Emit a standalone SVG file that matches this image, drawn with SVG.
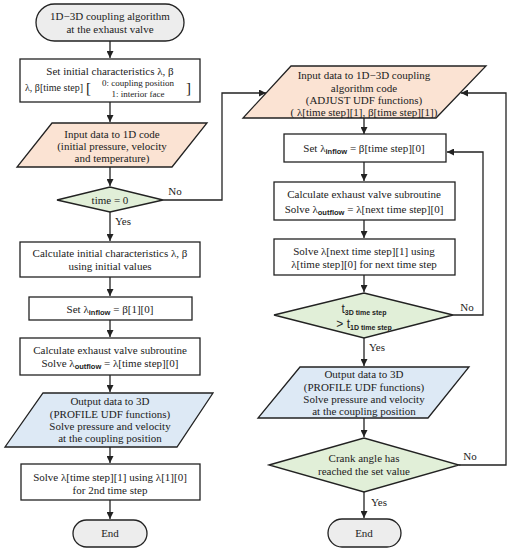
<svg xmlns="http://www.w3.org/2000/svg" width="511" height="550" viewBox="0 0 511 550">
<defs>
<marker id="ah" viewBox="0 0 10 10" refX="10" refY="5" markerWidth="7" markerHeight="7" markerUnits="userSpaceOnUse" orient="auto">
<path d="M0,0 L10,5 L0,10 z" fill="#222"/>
</marker>
<style>
.s{stroke:#222;stroke-width:1.3;}
.term{fill:#ededed;}
.box{fill:#ffffff;}
.inp{fill:#fbe3d3;}
.out{fill:#dde9f5;}
.dec{fill:#e1efd8;}
text{font-family:"Liberation Serif","Times New Roman",serif;font-size:11px;fill:#222;text-anchor:middle;}
.sub{font-family:"Liberation Sans",Arial,sans-serif;font-size:7.5px;font-weight:bold;}
.ss{font-family:"Liberation Sans",Arial,sans-serif;}
.small{font-size:9px;}
.c{fill:none;stroke:#222;stroke-width:1.3;}
</style>
</defs>
<g id="connectors">
<path class="c" d="M110,41 V58" marker-end="url(#ah)"/>
<path class="c" d="M110,102 V122" marker-end="url(#ah)"/>
<path class="c" d="M110,167 V186" marker-end="url(#ah)"/>
<path class="c" d="M110,212 V241" marker-end="url(#ah)"/>
<path class="c" d="M110,277 V296" marker-end="url(#ah)"/>
<path class="c" d="M110,320 V337" marker-end="url(#ah)"/>
<path class="c" d="M110,375 V392" marker-end="url(#ah)"/>
<path class="c" d="M110,447 V463" marker-end="url(#ah)"/>
<path class="c" d="M110,500 V519" marker-end="url(#ah)"/>
<path class="c" d="M163,200 H222 V93 H266" marker-end="url(#ah)"/>
<path class="c" d="M364,118 V134" marker-end="url(#ah)"/>
<path class="c" d="M364,162 V181" marker-end="url(#ah)"/>
<path class="c" d="M364,220 V238" marker-end="url(#ah)"/>
<path class="c" d="M364,275 V292" marker-end="url(#ah)"/>
<path class="c" d="M364,338 V366" marker-end="url(#ah)"/>
<path class="c" d="M364,418 V437" marker-end="url(#ah)"/>
<path class="c" d="M364,492 V518" marker-end="url(#ah)"/>
<path class="c" d="M453,315 H483 V152 H447" marker-end="url(#ah)"/>
<path class="c" d="M459,465 H506 V93 H461" marker-end="url(#ah)"/>
<text x="175" y="195">No</text>
<text x="123" y="225">Yes</text>
<text x="467" y="311">No</text>
<text x="377" y="351">Yes</text>
<text x="470" y="460">No</text>
<text x="379" y="506">Yes</text>
</g>
<g id="start">
<rect class="s term" x="36" y="4" width="148" height="37" rx="18.5"/>
<text x="110" y="20">1D−3D coupling algorithm</text>
<text x="110" y="33">at the exhaust valve</text>
</g>
<g id="set-initial">
<rect class="s box" x="20" y="59" width="180" height="43"/>
<text x="110" y="75">Set initial characteristics λ, β</text>
<text x="83" y="91" style="text-anchor:end;font-size:10px">λ, β[time step]</text>
<text x="86" y="93" style="font-size:15px;text-anchor:start">[</text>
<text x="186" y="93" style="font-size:15px;text-anchor:start">]</text>
<text class="small" x="138" y="86">0: coupling position</text>
<text class="small" x="138" y="97">1: interior face</text>
</g>
<g id="input-1d">
<polygon class="s inp" points="52,123 207,123 172,167 17,167"/>
<text x="112" y="138">Input data to 1D code</text>
<text x="112" y="150">(initial pressure, velocity</text>
<text x="112" y="162">and temperature)</text>
</g>
<g id="time-zero">
<polygon class="s dec" points="57,200 110,187 163,200 110,212"/>
<text x="110" y="204">time = 0</text>
</g>
<g id="calc-initial">
<rect class="s box" x="20" y="242" width="180" height="35"/>
<text x="110" y="257">Calculate initial characteristics λ, β</text>
<text x="110" y="270">using initial values</text>
</g>
<g id="set-inflow-1">
<rect class="s box" x="29" y="297" width="163" height="23"/>
<text x="110" y="313">Set λ<tspan class="sub" dy="2">inflow</tspan><tspan dy="-2"> =  β[1][0]</tspan></text>
</g>
<g id="calc-exhaust-1">
<rect class="s box" x="20" y="338" width="180" height="37"/>
<text x="110" y="354">Calculate exhaust valve subroutine</text>
<text x="110" y="367">Solve λ<tspan class="sub" dy="2">outflow</tspan><tspan dy="-2"> =  λ[time step][0]</tspan></text>
</g>
<g id="output-3d-1">
<polygon class="s out" points="43,393 213,393 177,447 5,447"/>
<text x="110" y="405">Output data to 3D</text>
<text x="110" y="418">(PROFILE UDF functions)</text>
<text x="110" y="430">Solve pressure and velocity</text>
<text x="110" y="442">at the coupling position</text>
</g>
<g id="solve-2nd">
<rect class="s box" x="21" y="464" width="179" height="36"/>
<text x="110" y="481">Solve λ[time step][1] using λ[1][0]</text>
<text x="110" y="494">for 2nd time step</text>
</g>
<g id="end-1">
<rect class="s term" x="73" y="520" width="74" height="27" rx="13.5"/>
<text x="110" y="537">End</text>
</g>
<g id="input-coupling">
<polygon class="s inp" points="291,66 486,66 436,118 243,118"/>
<text x="364" y="79">Input data to 1D−3D coupling</text>
<text x="364" y="92">algorithm code</text>
<text x="364" y="104">(ADJUST UDF functions)</text>
<text x="364" y="116">( λ[time step][1], β[time step][1])</text>
</g>
<g id="set-inflow-2">
<rect class="s box" x="284" y="134" width="162" height="28"/>
<text x="364" y="152">Set λ<tspan class="sub" dy="2">inflow</tspan><tspan dy="-2"> =  β[time step][0]</tspan></text>
</g>
<g id="calc-exhaust-2">
<rect class="s box" x="274" y="182" width="181" height="38"/>
<text x="364" y="198">Calculate exhaust valve subroutine</text>
<text x="364" y="213">Solve λ<tspan class="sub" dy="2">outflow</tspan><tspan dy="-2"> =  λ[next time step][0]</tspan></text>
</g>
<g id="solve-next">
<rect class="s box" x="274" y="239" width="181" height="36"/>
<text x="364" y="255">Solve λ[next time step][1] using</text>
<text x="364" y="268">λ[time step][0] for next time step</text>
</g>
<g id="t-compare">
<polygon class="s dec" points="274,315 364,293 453,315 364,338"/>
<text x="364" y="313"><tspan class="ss" style="font-size:12px">t</tspan><tspan class="sub" style="font-size:7px" dy="2">3D time step</tspan></text>
<text x="364" y="328"><tspan class="ss" style="font-size:12px">&gt; t</tspan><tspan class="sub" style="font-size:7px" dy="2">1D time step</tspan></text>
</g>
<g id="output-3d-2">
<polygon class="s out" points="300,367 469,367 428,418 258,418"/>
<text x="364" y="378">Output data to 3D</text>
<text x="364" y="391">(PROFILE UDF functions)</text>
<text x="364" y="403">Solve pressure and velocity</text>
<text x="364" y="415">at the coupling position</text>
</g>
<g id="crank">
<polygon class="s dec" points="269,465 364,438 459,465 364,492"/>
<text x="364" y="462">Crank angle has</text>
<text x="364" y="475">reached the set value</text>
</g>
<g id="end-2">
<rect class="s term" x="328" y="519" width="73" height="28" rx="14"/>
<text x="364" y="537">End</text>
</g>
</svg>
